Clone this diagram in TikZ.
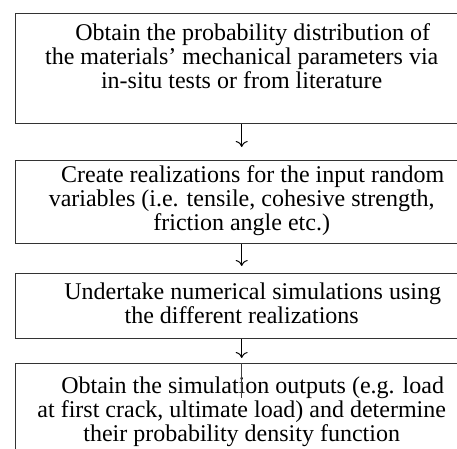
\documentclass[tikz,border=0pt]{standalone}
\usepackage{fontspec}
\setmainfont{Liberation Serif}
\usetikzlibrary{positioning,arrows.meta,calc}
\tikzset{
  stepbox/.style={draw=black!80,line width=1.4pt,minimum width=452pt,anchor=north west,inner sep=0pt},
  steptext/.style={align=center,inner sep=0pt,font=\fontsize{24}{24}\selectfont},
  flow/.style={-{To[length=6pt,width=12pt]},line width=1pt},
  cursor/.style={line width=0.6pt,black!75},
}

\begin{document}
\begin{tikzpicture}[x=1pt,y=1pt]
  \useasboundingbox (0,0) rectangle (457,-448);

  \node[stepbox,minimum height=110pt] (b1) at (15,-13) {};
  \node[stepbox,minimum height=83pt] (b2) at (15,-160) {};
  \node[stepbox,minimum height=65pt] (b3) at (15,-273) {};
  \node[stepbox,minimum height=107pt] (b4) at (15,-363) {};

  \node[steptext,below=10pt of b1.north] (t1) {\hspace*{22pt}Obtain the probability distribution of\\the materials’ mechanical parameters via\\in-situ tests or from literature};
  \node[steptext,below=5pt of b2.north] (t2) {\hspace*{22pt}Create realizations for the input random\\variables (i.e. tensile, cohesive strength,\\friction angle etc.)};
  \node[steptext,below=10pt of b3.north] (t3) {\hspace*{22pt}Undertake numerical simulations using\\the different realizations};
  \node[steptext,below=14pt of b4.north] (t4) {\hspace*{22pt}Obtain the simulation outputs (e.g. load\\at first crack, ultimate load) and determine\\their probability density function};

  \draw[flow] (b1.south) -- ([yshift=13pt]b2.north);
  \draw[flow] (b2.south) -- ([yshift=7pt]b3.north);
  \draw[flow] (b3.south) -- ([yshift=5pt]b4.north);
  \draw[cursor] (b4.north) -- ++(0,-35);

\end{tikzpicture}
\end{document}
